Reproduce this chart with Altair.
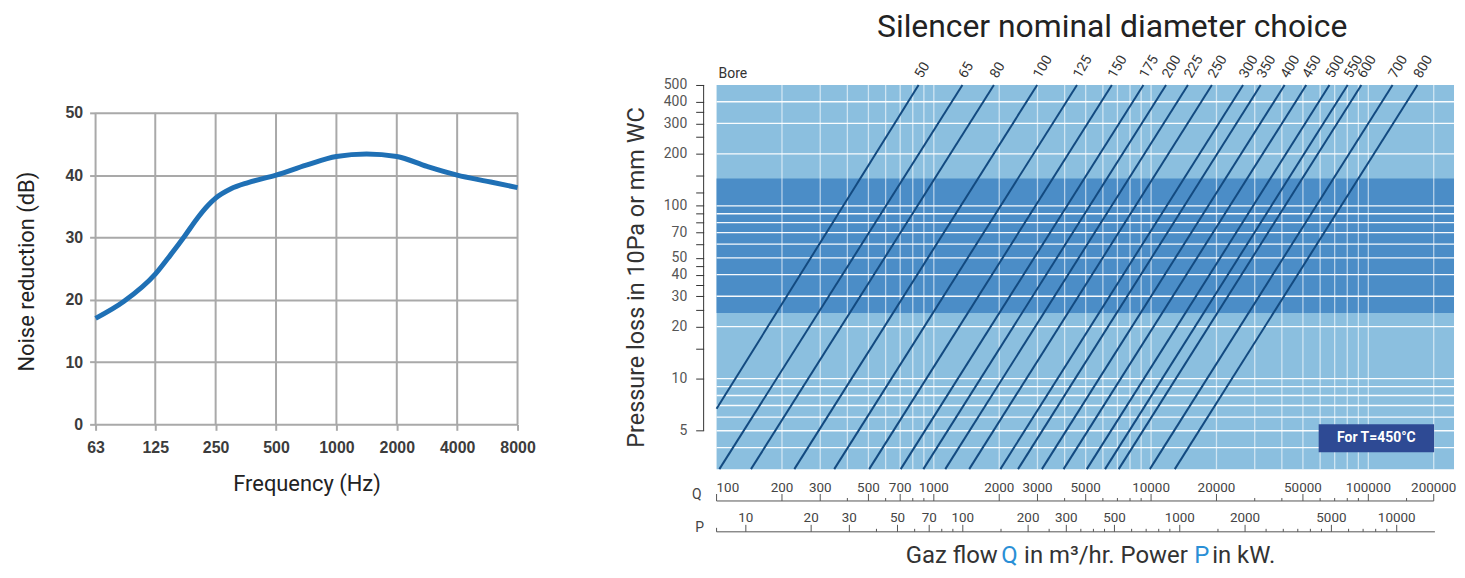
import altair as alt
import pandas as pd

# ---------------- left panel: noise reduction curve ----------------
freq_hz = [63, 87, 125, 149, 175, 204, 230, 250, 298, 363, 500, 707, 1000, 1414, 2000, 2830, 4000, 5660, 8000]
noise_db = [17.0, 19.7, 24.1, 27.2, 30.2, 33.2, 35.2, 36.3, 37.8, 38.8, 40.0, 41.6, 43.0, 43.4, 43.0, 41.4, 40.0, 39.0, 38.0]
freq_ticks = [63, 125, 250, 500, 1000, 2000, 4000, 8000]
db_ticks = [0, 10, 20, 30, 40, 50]
db_range = [0, 54.47]

# ---------------- right panel: silencer nominal diameter choice ----------------
bores = [50, 65, 80, 100, 125, 150, 175, 200, 225, 250, 300, 350, 400, 450, 500, 550, 600, 700, 800]
q_top = [851, 1354, 1890, 2990, 4560, 6600, 9220, 11720, 14780, 19050, 26510, 31960, 41180, 51800, 66230, 80350, 92880, 129300, 168300]
p_top = [500, 500, 500, 500, 500, 500, 500, 500, 500, 500, 500, 500, 500, 500, 500, 500, 500, 500, 500]
q_bottom = [100, 103, 144, 228, 348, 504, 704, 895, 1129, 1455, 2025, 2441, 3145, 3956, 5059, 6140, 7095, 9874, 12860]
p_bottom = [6.7, 3, 3, 3, 3, 3, 3, 3, 3, 3, 3, 3, 3, 3, 3, 3, 3, 3, 3]

q_range = [100, 248000]
p_range = [3, 500]
band_p = [24, 144]
grid_q = [200, 300, 400, 500, 600, 700, 800, 900, 1000, 2000, 3000, 4000, 5000, 6000, 7000, 8000, 9000,
          10000, 20000, 30000, 40000, 50000, 60000, 70000, 80000, 90000, 100000, 200000]
grid_p = [4, 5, 6, 7, 8, 9, 10, 20, 30, 40, 50, 60, 70, 80, 90, 100, 200, 300, 400]
p_ticks = [500, 400, 350, 300, 250, 200, 150, 120, 100, 90, 80, 70, 60, 50, 45, 40, 35, 30, 25, 20, 15, 10, 5]
p_labels = [500, 400, 300, 200, 100, 70, 50, 40, 30, 20, 10, 5]
p_axis_span = [5, 500]

q_axis_ticks = [100, 200, 300, 400, 500, 600, 700, 800, 900, 1000, 2000, 3000, 4000, 5000, 6000, 7000, 8000, 9000,
                10000, 20000, 30000, 40000, 50000, 60000, 70000, 80000, 90000, 100000, 150000, 200000]
q_axis_labels = [100, 200, 300, 500, 700, 1000, 2000, 3000, 5000, 10000, 20000, 50000, 100000, 200000]
q_axis_span = [100, 200000]

kw_range = [7.33, 18370]
kw_axis_span = [7.33, 15000]
kw_ticks = [10, 20, 30, 40, 50, 60, 70, 80, 90, 100, 150, 200, 250, 300, 350, 400, 450, 500, 600, 700, 800, 900,
            1000, 1500, 2000, 2500, 3000, 3500, 4000, 4500, 5000, 6000, 7000, 8000, 9000, 10000]
kw_labels = [10, 20, 30, 50, 70, 100, 200, 300, 500, 1000, 2000, 5000, 10000]

title_parts = ["Gaz flow", "Q", "in m\u00b3/hr. Power", "P", "in kW."]
title_part_colors = ["#333333", "#2a8fd6", "#333333", "#2a8fd6", "#333333"]

FONT = "Roboto, 'DejaVu Sans', sans-serif"
BOLD_FONT = "'Liberation Sans', Arial, sans-serif"

# ================= left chart =================
LW, LH = 424, 341
grid_gray = "#a9a9a9"

xl = alt.X("freq:Q",
           scale=alt.Scale(type="log", base=2, domain=[63, 8000], nice=False),
           axis=alt.Axis(values=freq_ticks, format="d", title="Frequency (Hz)", grid=False, domain=False,
                         tickColor=grid_gray, tickWidth=2, tickSize=6,
                         labelFont=BOLD_FONT, labelFontWeight="bold", labelFontSize=16, labelColor="#3c3c3c",
                         labelPadding=9, labelFlush=False, labelOverlap=False,
                         titleFont=FONT, titleFontSize=22, titleFontWeight="normal", titleColor="#222222",
                         titlePadding=18))
yl = alt.Y("db:Q",
           scale=alt.Scale(domain=db_range, nice=False),
           axis=alt.Axis(values=db_ticks, title="Noise reduction (dB)", grid=True, gridColor=grid_gray,
                         gridWidth=2, domain=False, tickColor=grid_gray, tickWidth=2, tickSize=6,
                         labelFont=BOLD_FONT, labelFontWeight="bold", labelFontSize=16, labelColor="#3c3c3c",
                         labelPadding=7, labelFlush=False,
                         titleFont=FONT, titleFontSize=22, titleFontWeight="normal", titleColor="#222222",
                         titlePadding=27, titleY=187))

vgrid_left = alt.Chart(pd.DataFrame({"freq": freq_ticks, "db": [db_ticks[0]] * len(freq_ticks),
                                     "db2": [db_ticks[-1]] * len(freq_ticks)})).mark_rule(
    color=grid_gray, strokeWidth=2).encode(x=xl, y=yl, y2="db2:Q")
curve = alt.Chart(pd.DataFrame({"freq": freq_hz, "db": noise_db})).mark_line(
    color="#1f70b5", strokeWidth=5, interpolate="monotone").encode(x=xl, y=yl)
left = alt.layer(vgrid_left, curve).properties(width=LW, height=LH)

# ================= right chart =================
W, H = 741, 386


def xq(field):
    return alt.X(f"{field}:Q", scale=alt.Scale(type="log", domain=q_range, nice=False), axis=None)


def xk(field):
    return alt.X(f"{field}:Q", scale=alt.Scale(type="log", domain=kw_range, nice=False), axis=None)


label_test = "indexof(%s, datum.value) >= 0" % str(p_labels)


def yp():
    return alt.Y("p:Q", scale=alt.Scale(type="log", domain=p_range, nice=False),
                 axis=alt.Axis(values=p_ticks, labelExpr=label_test + " ? datum.label : ''",
                               title="Pressure loss in 10Pa or mm WC", grid=False, domain=False,
                               offset=13, tickSize=8, tickColor="#333333", tickWidth=1,
                               labelFont=FONT, labelFontSize=14, labelColor="#555555", labelPadding=9,
                               labelFlush=False, labelOverlap=False,
                               titleFont=FONT, titleFontSize=23.5, titleFontWeight="normal",
                               titleColor="#333333", titlePadding=15))


one = alt.Data(values=[{}])

bg = alt.Chart(pd.DataFrame({"q": [q_range[0]], "q2": [q_range[1]], "p": [p_range[0]], "p2": [p_range[1]]})).mark_rect(
    color="#8bbfdf").encode(x=xq("q"), x2="q2:Q", y=yp(), y2="p2:Q")
band = alt.Chart(pd.DataFrame({"q": [q_range[0]], "q2": [q_range[1]], "p": [band_p[0]], "p2": [band_p[1]]})).mark_rect(
    color="#4b8dc7").encode(x=xq("q"), x2="q2:Q", y=yp(), y2="p2:Q")
vgrid = alt.Chart(pd.DataFrame({"q": grid_q})).mark_rule(color="white", strokeWidth=1.3, opacity=0.6).encode(x=xq("q"))
hgrid = alt.Chart(pd.DataFrame({"p": grid_p})).mark_rule(color="white", strokeWidth=1.3, opacity=0.95).encode(y=yp())

lines_df = pd.DataFrame({"bore": bores + bores, "q": q_top + q_bottom, "p": p_top + p_bottom})
diag = alt.Chart(lines_df).mark_line(color="#134a80", strokeWidth=2).encode(x=xq("q"), y=yp(), detail="bore:N")

bore_lbl = alt.Chart(pd.DataFrame({"bore": bores, "q": q_top})).mark_text(
    angle=300, align="left", baseline="middle", fontSize=14, font=FONT, color="#333333").encode(
    x=xq("q"), y=alt.value(-8), text="bore:N")
bore_word = alt.Chart(one).mark_text(text="Bore", align="left", baseline="middle", fontSize=14, font=FONT,
                                     color="#333333").encode(x=alt.value(2), y=alt.value(-11))

yaxis_line = alt.Chart(pd.DataFrame({"p": [p_axis_span[0]], "p2": [p_axis_span[1]]})).mark_rule(
    color="#333333").encode(x=alt.value(-13), y=yp(), y2="p2:Q")

box = alt.Chart(one).mark_rect(color="#2e4a94").encode(
    x=alt.value(605), x2=alt.value(721), y=alt.value(341), y2=alt.value(369))
box_txt = alt.Chart(one).mark_text(text="For T=450\u00b0C", color="white", fontSize=14, fontWeight="bold",
                                   font=FONT).encode(x=alt.value(663), y=alt.value(355))

# Q axis (flow)
QY = 418
q_minor = [v for v in q_axis_ticks if v not in q_axis_labels]
q_line = alt.Chart(pd.DataFrame({"q": [q_axis_span[0]], "q2": [q_axis_span[1]]})).mark_rule(
    color="#555555").encode(x=xq("q"), x2="q2:Q", y=alt.value(QY))
q_major_t = alt.Chart(pd.DataFrame({"q": q_axis_labels})).mark_rule(color="#555555").encode(
    x=xq("q"), y=alt.value(QY), y2=alt.value(QY - 7))
q_minor_t = alt.Chart(pd.DataFrame({"q": q_minor})).mark_rule(color="#555555").encode(
    x=xq("q"), y=alt.value(QY), y2=alt.value(QY - 3))
q_first = alt.Chart(pd.DataFrame({"q": q_axis_labels[:1]})).mark_text(
    align="left", baseline="middle", fontSize=13.5, font=FONT, color="#444444").encode(
    x=xq("q"), y=alt.value(QY - 13), text=alt.Text("q:Q", format="d"))
q_rest = alt.Chart(pd.DataFrame({"q": q_axis_labels[1:]})).mark_text(
    align="center", baseline="middle", fontSize=13.5, font=FONT, color="#444444").encode(
    x=xq("q"), y=alt.value(QY - 13), text=alt.Text("q:Q", format="d"))
q_letter = alt.Chart(one).mark_text(text="Q", fontSize=14, font=FONT, color="#444444").encode(
    x=alt.value(-20), y=alt.value(QY - 6))

# P axis (power)
KY = 449
kw_minor = [v for v in kw_ticks if v not in kw_labels]
k_line = alt.Chart(pd.DataFrame({"k": [kw_axis_span[0]], "k2": [kw_axis_span[1]]})).mark_rule(
    color="#555555").encode(x=xk("k"), x2="k2:Q", y=alt.value(KY))
k_end_t = alt.Chart(pd.DataFrame({"k": kw_axis_span[:1]})).mark_rule(color="#555555").encode(
    x=xk("k"), y=alt.value(KY), y2=alt.value(KY - 4))
k_major_t = alt.Chart(pd.DataFrame({"k": kw_labels})).mark_rule(color="#555555").encode(
    x=xk("k"), y=alt.value(KY), y2=alt.value(KY - 7))
k_minor_t = alt.Chart(pd.DataFrame({"k": kw_minor})).mark_rule(color="#555555").encode(
    x=xk("k"), y=alt.value(KY), y2=alt.value(KY - 3))
k_lbl = alt.Chart(pd.DataFrame({"k": kw_labels})).mark_text(
    align="center", baseline="middle", fontSize=13.5, font=FONT, color="#444444").encode(
    x=xk("k"), y=alt.value(KY - 14), text=alt.Text("k:Q", format="d"))
k_letter = alt.Chart(one).mark_text(text="P", fontSize=14, font=FONT, color="#444444").encode(
    x=alt.value(-17), y=alt.value(KY - 4))

# bottom title in coloured pieces
part_x = [190, 286, 309, 480, 498]
title_layers = []
for txt, col, px in zip(title_parts, title_part_colors, part_x):
    title_layers.append(alt.Chart(one).mark_text(text=txt, color=col, fontSize=24, font=FONT, align="left",
                                                 baseline="middle").encode(x=alt.value(px), y=alt.value(473)))

right = alt.layer(
    bg, band, vgrid, hgrid, diag, bore_lbl, bore_word, yaxis_line, box, box_txt,
    q_line, q_major_t, q_minor_t, q_first, q_rest, q_letter,
    k_line, k_end_t, k_major_t, k_minor_t, k_lbl, k_letter, *title_layers
).resolve_scale(x="independent").properties(
    width=W, height=H,
    title=alt.TitleParams("Silencer nominal diameter choice", font=FONT, fontSize=32, fontWeight="normal",
                          color="#222222", anchor="middle", dx=27, offset=9))

chart = alt.hconcat(left, right, spacing=89).properties(
    padding={"left": 7, "top": 2, "right": 0, "bottom": 0}
).configure_view(stroke=None)

chart.save("out.html", embed_options={"renderer": "svg", "actions": False})
